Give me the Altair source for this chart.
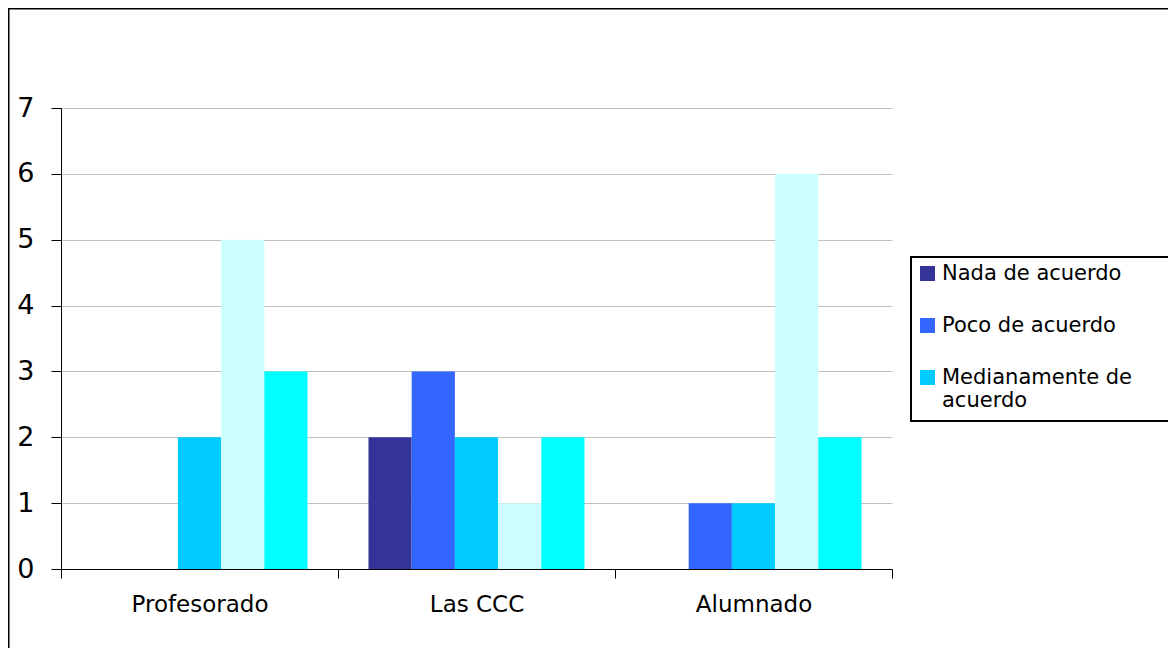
import altair as alt
import pandas as pd

categories = ["Profesorado", "Las CCC", "Alumnado"]
series = ["Nada de acuerdo", "Poco de acuerdo", "Medianamente de acuerdo",
          "Bastante de acuerdo", "Muy de acuerdo"]
colors = ["#333399", "#3366FF", "#00CCFF", "#CCFFFF", "#00FFFF"]
nada = [0, 2, 0]
poco = [0, 3, 1]
mediana = [2, 2, 1]
bastante = [5, 1, 6]
muy = [3, 2, 2]
y_ticks = [0, 1, 2, 3, 4, 5, 6, 7]

rows = []
for s, vals in zip(series, [nada, poco, mediana, bastante, muy]):
    for c, v in zip(categories, vals):
        rows.append({"cat": c, "serie": s, "valor": v})
df = pd.DataFrame(rows)

FONT = "DejaVu Sans"

label_expr = ("datum.label == 'Medianamente de acuerdo' ? "
              "['Medianamente de', 'acuerdo'] : datum.label")

bars = alt.Chart(df).mark_bar().encode(
    x=alt.X("cat:N", sort=categories,
            scale=alt.Scale(paddingInner=0, paddingOuter=0),
            axis=alt.Axis(title=None, labelAngle=0, tickBand="extent", grid=False,
                          domainColor="black", tickColor="black", tickSize=9,
                          labelFontSize=23, labelPadding=15, labelColor="black",
                          labelFont=FONT)),
    xOffset=alt.XOffset("serie:N", sort=series,
                        scale=alt.Scale(paddingInner=0, paddingOuter=0.705)),
    y=alt.Y("valor:Q", scale=alt.Scale(domain=[0, 7]),
            axis=alt.Axis(values=y_ticks, title=None, grid=True, gridColor="#c0c0c0",
                          domainColor="black", tickColor="black", tickSize=10,
                          labelFontSize=27, labelPadding=17, labelColor="black",
                          labelFont=FONT, format="d")),
    color=alt.Color("serie:N", sort=series,
                    scale=alt.Scale(domain=series, range=colors),
                    legend=alt.Legend(values=series[:3], orient="none",
                                      legendX=850, legendY=149, title=None,
                                      symbolType="square", symbolSize=225,
                                      symbolStrokeWidth=0, labelFontSize=21,
                                      labelFont=FONT, labelColor="black",
                                      labelLimit=400,
                                      padding=6, rowPadding=30,
                                      labelExpr=label_expr)),
)

border = alt.Chart(alt.Data(values=[{"a": 1}])).mark_rect(
    fillOpacity=0, stroke="black", strokeWidth=2
).encode(
    x=alt.value(-52.5), x2=alt.value(1300),
    y=alt.value(-99.5), y2=alt.value(800),
)

legend_box = alt.Chart(alt.Data(values=[{"a": 1}])).mark_rect(
    fill="white", stroke="black", strokeWidth=2
).encode(
    x=alt.value(850), x2=alt.value(1300),
    y=alt.value(149), y2=alt.value(313),
)

chart = alt.layer(border, bars, legend_box).properties(
    width=831, height=461,
    autosize=alt.AutoSizeParams(type="none"),
    padding={"left": 53, "top": 100, "right": 276, "bottom": 79},
).configure_view(stroke=None)

chart.save("out.html", embed_options={"renderer": "svg", "actions": False})
